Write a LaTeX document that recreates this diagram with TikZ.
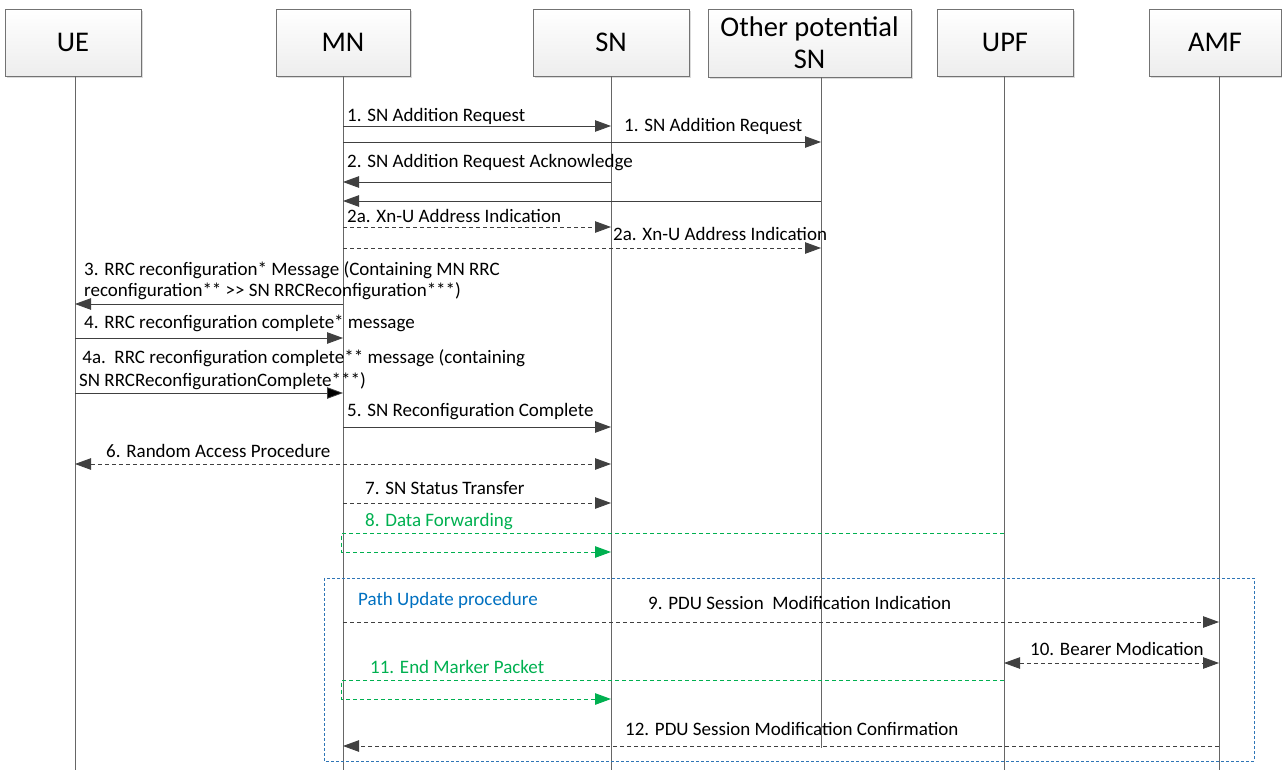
\documentclass[tikz,border=0pt]{standalone}
\usepackage{fontspec}
\setmainfont{Carlito}
\usetikzlibrary{arrows.meta,shadows}
\definecolor{ink}{HTML}{404040}
\definecolor{lg}{HTML}{00B050}
\definecolor{pb}{HTML}{2E75B6}
\definecolor{ptx}{HTML}{0070C0}
\tikzset{
 ent/.style={draw=black!55, top color=white, bottom color=black!7, minimum height=67pt, inner sep=0pt,
   font=\fontsize{28.5}{32}\selectfont, align=center,
   drop shadow={shadow xshift=2pt,shadow yshift=-2pt,fill=black!14,opacity=1}},
 life/.style={draw=black!60, line width=0.9pt},
 tip/.tip={Triangle[length=16pt,width=11.5pt]},
 msg/.style={draw=ink, line width=0.8pt, -tip},
 dmsg/.style={msg, dash pattern=on 4pt off 3pt},
 bmsg/.style={dmsg, tip-tip},
 gmsg/.style={draw=lg, line width=1pt, dash pattern=on 4pt off 3pt, -tip},
 lbl/.style={font=\fontsize{19}{21}\selectfont, anchor=west, inner sep=0pt, text=black, align=left},
 glbl/.style={lbl, text=lg},
}
\begin{document}
\begin{tikzpicture}[x=1pt,y=-1pt]
\useasboundingbox (0,0) rectangle (1282,772);
% entities
\node[ent, minimum width=136pt] (ue) at (73,42.5) {UE};
\node[ent, minimum width=134pt] (mn) at (343,42.5) {MN};
\node[ent, minimum width=156pt] (sn) at (611,42.5) {SN};
\node[ent, minimum width=203pt, minimum height=68pt] (oth) at (809.5,43) {Other potential\\SN};
\node[ent, minimum width=136pt] (upf) at (1005,42.5) {UPF};
\node[ent, minimum width=132pt] (amf) at (1215,42.5) {AMF};
% lifeline coordinates
\coordinate (L-ue) at (75,76);
\coordinate (L-mn) at (343,76);
\coordinate (L-sn) at (611,76);
\coordinate (L-oth) at (821,77);
\coordinate (L-upf) at (1004,76);
\coordinate (L-amf) at (1219,76);
\foreach \n in {ue,mn,sn,upf,amf} \draw[life] (L-\n) -- (L-\n |- 0,770);
\draw[life] (L-oth) -- (L-oth |- 0,748);
% path update box
\draw[pb, line width=0.8pt, dash pattern=on 3pt off 2pt] (324,578) rectangle (1254,761);
% messages
\draw[msg] (L-mn |- 0,126) -- (L-sn |- 0,126);
\node[lbl] (m1a) at (347,116) {1. SN Addition Request};
\draw[msg] (L-mn |- 0,142) -- (L-oth |- 0,142);
\node[lbl] (m1b) at (624,126) {1. SN Addition Request};
\draw[msg] (L-sn |- 0,182) -- (L-mn |- 0,182);
\node[lbl] (m2) at (347,163) {2. SN Addition Request Acknowledge};
\draw[msg] (L-oth |- 0,201) -- (L-mn |- 0,201);
\draw[dmsg] (L-mn |- 0,227) -- (L-sn |- 0,227);
\node[lbl] (m2a) at (347,216) {2a. Xn-U Address Indication};
\draw[dmsg] (L-mn |- 0,248) -- (L-oth |- 0,248);
\node[lbl] (m2b) at (613,234) {2a. Xn-U Address Indication};
\draw[msg] (L-mn |- 0,304) -- (L-ue |- 0,304);
\node[lbl] (m3) at (84,280.5) {3. RRC reconfiguration* Message (Containing MN RRC\\reconfiguration** {>}{>} SN RRCReconfiguration***)};
\draw[msg] (L-ue |- 0,338) -- (L-mn |- 0,338);
\node[lbl] (m4) at (84,323) {4. RRC reconfiguration complete* message};
\draw[draw=ink, line width=0.8pt, -{Triangle[length=16pt,width=11.5pt,fill=black]}] (L-ue |- 0,393) -- (L-mn |- 0,393);
\node[lbl, font=\fontsize{19}{23}\selectfont] (m4a) at (79,369.5) {\,4a.\ \ RRC reconfiguration complete** message (containing\\SN RRCReconfigurationComplete***)};
\draw[msg] (L-mn |- 0,427) -- (L-sn |- 0,427);
\node[lbl] (m5) at (347,412) {5. SN Reconfiguration Complete};
\draw[bmsg] (L-ue |- 0,464) -- (L-sn |- 0,464);
\node[lbl] (m6) at (106,451) {6. Random Access Procedure};
\draw[dmsg] (L-mn |- 0,503) -- (L-sn |- 0,503);
\node[lbl] (m7) at (365,488) {7. SN Status Transfer};
\draw[gmsg] (L-upf |- 0,533) -- ([xshift=-1.5pt]L-mn |- 0,533) -- ([xshift=-1.5pt]L-mn |- 0,552) -- (L-sn |- 0,552);
\node[glbl] (m8) at (365,522) {8. Data Forwarding};
\node[lbl, text=ptx] (pu) at (358,600) {Path Update procedure};
\draw[dmsg] (L-mn |- 0,622) -- (L-amf |- 0,622);
\node[lbl] (m9) at (648,603) {9. PDU Session\ \ Modification Indication};
\draw[bmsg] (L-upf |- 0,663) -- (L-amf |- 0,663);
\node[lbl] (m10) at (1030,649) {10. Bearer Modication};
\draw[gmsg] (L-upf |- 0,680) -- ([xshift=-1.5pt]L-mn |- 0,680) -- ([xshift=-1.5pt]L-mn |- 0,699) -- (L-sn |- 0,699);
\node[glbl] (m11) at (370,667) {11. End Marker Packet};
\draw[dmsg] (L-amf |- 0,746) -- (L-mn |- 0,746);
\node[lbl] (m12) at (625,729) {12. PDU Session Modification Confirmation};
\end{tikzpicture}
\end{document}
